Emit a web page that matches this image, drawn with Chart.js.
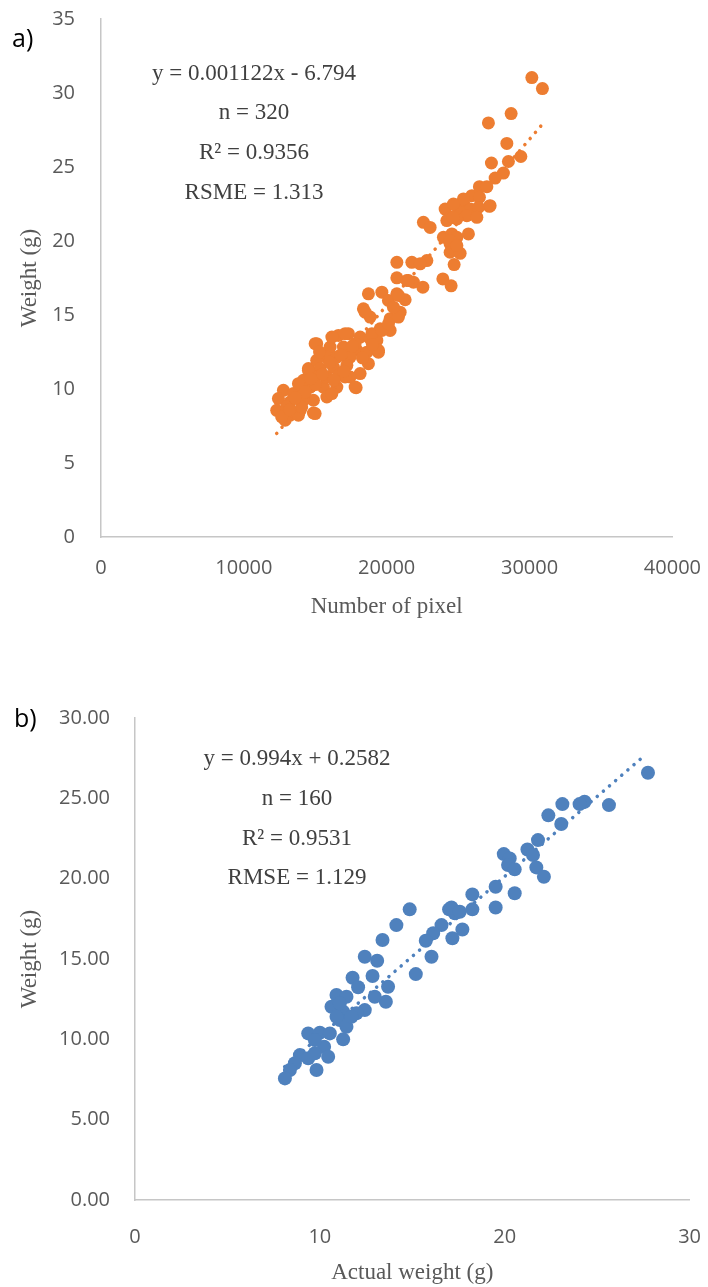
<!DOCTYPE html>
<html>
<head>
<meta charset="utf-8">
<script src="https://cdn.jsdelivr.net/npm/chart.js@4.4.1/dist/chart.umd.min.js"></script>
<style>
  body { margin: 0; width: 708px; height: 1287px; background: #fff; position: relative; overflow: hidden; }
  canvas { position: absolute; left: 0; }
  .note { position: absolute; font-family: "Liberation Serif", serif; font-size: 23px; color: #404040;
          transform: translate(-50%, -50%); white-space: nowrap; }
  .tag { position: absolute; font-family: "Open Sans", sans-serif; font-size: 25px; color: #000; line-height: 1; }
</style>
</head>
<body>
<canvas id="chart-a" width="708" height="640" style="top:0"></canvas>
<canvas id="chart-b" width="708" height="637" style="top:650px"></canvas>

<div class="tag" style="left:12px; top:25px">a)</div>
<div class="note" style="left:254px; top:73px">y = 0.001122x - 6.794</div>
<div class="note" style="left:254px; top:112px">n = 320</div>
<div class="note" style="left:254px; top:152px">R² = 0.9356</div>
<div class="note" style="left:254px; top:192px">RSME = 1.313</div>

<div class="tag" style="left:14px; top:705px">b)</div>
<div class="note" style="left:297px; top:758px">y = 0.994x + 0.2582</div>
<div class="note" style="left:297px; top:798px">n = 160</div>
<div class="note" style="left:297px; top:838px">R² = 0.9531</div>
<div class="note" style="left:297px; top:877px">RMSE = 1.129</div>

<script>
// a) number of pixel vs weight
const pixel_count = [
  30160, 30900, 28710, 27120, 28410, 27330, 28520, 29390, 28170, 27590,
  26490, 27010, 25960, 26490, 25370, 24720, 24090, 27190, 25840, 26420,
  25140, 24440, 25610, 26310, 24210, 24910, 22570, 23040, 25720, 23970,
  24560, 24910, 24440, 24440, 25140, 24720, 20710, 21760, 22810, 22340,
  20710, 21410, 21870, 22530, 23930, 24510, 18720, 19660, 20710, 21290,
  20120, 18370, 18840, 20940, 20240, 20820, 19540, 20240, 16620, 17320,
  18140, 18840, 19310, 15100, 16040, 16970, 17910, 18610, 19420, 15810,
  16510, 17440, 15100, 14520, 15340, 16270, 17210, 18720, 18140, 17440,
  16620, 15810, 14990, 14170, 13940, 14640, 15570, 16510, 17860, 12770,
  13470, 15810, 14870, 14170, 12420, 13240, 12300, 13010, 13940, 14870,
  13240, 12890, 13820, 14990, 16160, 17090, 17790, 18960, 19660, 20120,
  19420, 17790, 14520, 13820, 12650, 14990, 14050, 16160, 17090, 15690,
  24650, 24440, 24910, 21520, 20820, 20470, 18490, 25370, 24670, 27240,
  15500, 16000, 16800, 17600, 15000, 14300, 13600, 17000, 18300, 19000,
  16300, 14700, 13200, 15300,
];
const weight_a = [
  31.04, 30.30, 28.61, 27.98, 26.59, 25.27, 25.37, 25.71, 24.59, 24.25,
  23.67, 23.67, 23.06, 22.95, 22.61, 22.45, 22.16, 22.34, 22.16, 22.27,
  21.94, 21.60, 21.71, 21.60, 21.38, 21.49, 21.26, 20.92, 20.48, 20.25,
  20.48, 20.25, 19.80, 19.24, 19.17, 18.41, 18.56, 18.56, 18.68, 18.46,
  17.51, 17.33, 17.22, 16.88, 17.44, 16.97, 16.43, 16.54, 16.43, 16.03,
  15.98, 15.42, 14.86, 15.19, 14.75, 14.86, 14.07, 13.96, 13.62, 13.74,
  13.51, 13.40, 13.28, 13.06, 12.83, 12.83, 12.61, 12.49, 12.49, 12.16,
  12.16, 12.16, 11.94, 11.38, 11.38, 11.48, 11.60, 11.71, 11.04, 10.81,
  10.92, 10.81, 10.81, 10.59, 10.13, 10.13, 10.13, 10.13, 10.09, 9.91,
  9.69, 9.46, 9.24, 9.24, 9.35, 9.12, 8.56, 8.79, 8.56, 8.38,
  8.23, 7.89, 8.23, 13.06, 13.51, 13.74, 13.06, 13.74, 13.96, 14.41,
  12.61, 10.13, 11.26, 10.36, 8.11, 8.34, 8.79, 9.69, 10.81, 10.81,
  21.60, 20.03, 19.69, 17.33, 16.32, 15.53, 15.19, 22.84, 22.50, 22.39,
  11.00, 11.80, 12.30, 12.90, 10.30, 9.80, 9.40, 11.20, 12.10, 13.00,
  10.60, 10.70, 8.60, 12.50,
];
const trend_a_x = [12300, 31000];
const trend_a_y = [7.0, 28.0];

// b) actual vs predicted weight
const actual_weight = [
  14.86, 14.14, 13.39, 12.43, 13.10, 12.85, 11.77, 12.07, 15.19, 13.69,
  13.57, 12.97, 12.43, 10.90, 11.44, 10.63, 11.26, 11.08, 11.44, 11.98,
  11.26, 9.37, 10.00, 10.54, 16.99, 17.30, 16.58, 16.13, 15.73, 17.17,
  16.04, 27.75, 25.64, 24.32, 24.05, 23.12, 22.36, 23.06, 21.80, 21.23,
  21.53, 19.95, 20.27, 20.18, 20.54, 21.71, 22.12, 20.54, 19.51, 19.51,
  18.25, 18.25, 17.12, 17.57, 17.71, 11.08, 10.90, 11.71, 10.23, 10.45,
  9.82, 8.92, 8.65, 8.38, 8.11, 9.37, 9.73, 9.73,
];
const predicted_weight = [
  18.09, 17.11, 16.18, 15.14, 14.89, 13.94, 13.83, 13.24, 14.06, 13.27,
  12.34, 12.65, 11.82, 12.76, 12.65, 12.03, 11.72, 11.20, 10.78, 11.62,
  10.00, 10.37, 10.41, 10.37, 18.09, 17.84, 17.11, 16.60, 16.14, 16.29,
  15.14, 26.59, 24.58, 24.79, 24.64, 24.64, 23.94, 23.40, 22.40, 21.82,
  21.47, 21.53, 21.26, 20.85, 20.58, 20.70, 20.12, 19.09, 19.50, 18.21,
  19.02, 18.09, 18.21, 17.94, 16.84, 12.24, 11.41, 11.41, 9.54, 8.92,
  8.09, 9.02, 8.51, 8.09, 7.57, 8.82, 9.13, 9.96,
];
const trend_b_x = [8.1, 27.6];
const trend_b_y = [8.3, 27.7];

const tick_font = { family: "Open Sans", size: 20 };
const title_font = { family: "Liberation Serif", size: 23 };
const grey = "#595959";

function pairs(xs, ys) {
  return xs.map((x, i) => ({ x: x, y: ys[i] }));
}

function make_config(cfg) {
  return {
    type: "scatter",
    data: {
      datasets: [
        {
          data: pairs(cfg.xs, cfg.ys),
          backgroundColor: cfg.color,
          borderWidth: 0,
          pointRadius: cfg.radius,
          pointHoverRadius: cfg.radius,
        },
        {
          data: pairs(cfg.tx, cfg.ty),
          showLine: true,
          borderColor: cfg.color,
          borderWidth: 3.5,
          borderDash: [0.1, 8],
          borderCapStyle: "round",
          pointRadius: 0,
        },
      ],
    },
    options: {
      responsive: false,
      animation: false,
      events: [],
      layout: { padding: { top: 20, right: 20, left: 0, bottom: 0 } },
      plugins: { legend: { display: false }, tooltip: { enabled: false } },
      scales: {
        x: {
          type: "linear",
          min: cfg.xmin,
          max: cfg.xmax,
          ticks: { stepSize: cfg.xstep, font: tick_font, color: grey, padding: cfg.xpad, callback: (v) => String(v) },
          grid: { display: false, drawTicks: false },
          border: { color: "#c6c6c6", width: 1.5 },
          title: { display: true, text: cfg.xtitle, font: title_font, color: grey, padding: { top: 0, bottom: cfg.xtitle_pad } },
          afterFit: (s) => { s.height = cfg.xheight; },
        },
        y: {
          type: "linear",
          min: cfg.ymin,
          max: cfg.ymax,
          ticks: { stepSize: cfg.ystep, font: tick_font, color: grey, padding: cfg.ypad, callback: cfg.yfmt },
          grid: { display: false, drawTicks: false },
          border: { color: "#c6c6c6", width: 1.5 },
          title: { display: true, text: "Weight (g)", font: title_font, color: grey, padding: { top: 16, bottom: 0 } },
          afterFit: (s) => { s.width = cfg.ywidth; },
        },
      },
    },
  };
}

// build once, measure the plot box, then resize and shift the canvas so the
// plot box lands where it sits in the figure
function draw_panel(id, cfg, box) {
  const canvas = document.getElementById(id);
  let chart = new Chart(canvas, make_config(cfg));
  const a = chart.chartArea;
  const w = Math.round(chart.width + (box.right - box.left) - (a.right - a.left));
  const h = Math.round(chart.height + (box.bottom - box.top) - (a.bottom - a.top));
  chart.destroy();
  canvas.width = w;
  canvas.height = h;
  chart = new Chart(canvas, make_config(cfg));
  const b = chart.chartArea;
  canvas.style.left = (box.left - b.left) + "px";
  canvas.style.top = (box.top - b.top) + "px";
}

draw_panel("chart-a", {
  xs: pixel_count, ys: weight_a, tx: trend_a_x, ty: trend_a_y,
  color: "#ED7D31", radius: 6.5,
  ywidth: 101, xheight: 103,
  xmin: 0, xmax: 40000, xstep: 10000, ymin: 0, ymax: 35, ystep: 5,
  xpad: 19, ypad: 26, xtitle_pad: 19, xtitle: "Number of pixel",
  yfmt: (v) => String(v),
}, { left: 101, top: 19, right: 672, bottom: 537 });

draw_panel("chart-b", {
  xs: actual_weight, ys: predicted_weight, tx: trend_b_x, ty: trend_b_y,
  color: "#4F81BD", radius: 7,
  ywidth: 135, xheight: 87,
  xmin: 0, xmax: 30, xstep: 10, ymin: 0, ymax: 30, ystep: 5,
  xpad: 25, ypad: 25, xtitle_pad: 0, xtitle: "Actual weight (g)",
  yfmt: (v) => v.toFixed(2),
}, { left: 135, top: 718, right: 690, bottom: 1200 });
</script>
</body>
</html>
